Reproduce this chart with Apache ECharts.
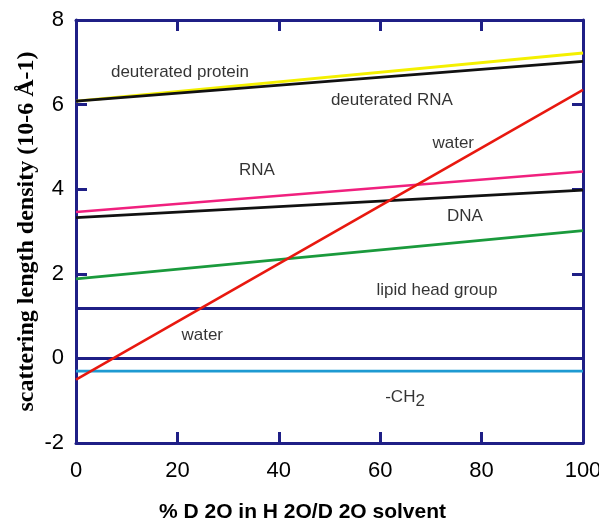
<!DOCTYPE html>
<html>
<head>
<meta charset="utf-8">
<script src="https://cdn.jsdelivr.net/npm/echarts@6/dist/echarts.min.js"></script>
<style>html,body{margin:0;padding:0;background:#fff}#c{width:599px;height:524px}</style>
</head>
<body>
<div id="c"></div>
<script>
// x endpoints (% D2O)
const xEnds = [0, 100];
// series values at 0% and 100% D2O
const deutProteinYellow = [6.08, 7.22];
const deutProteinBlack = [6.08, 7.02];
const rnaPink = [3.46, 4.42];
const rnaBlack = [3.33, 3.98];
const dnaGreen = [1.88, 3.02];
const water = [-0.5, 6.35];
const lipidHead = [1.18, 1.18];
const zeroLine = [0, 0];
const ch2 = [-0.3, -0.3];
// axis ticks
const xTicks = [0, 20, 40, 60, 80, 100];
const yTicks = [-2, 0, 2, 4, 6, 8];
// annotation texts and their data positions
const annoText = ['deuterated protein', 'deuterated RNA', 'water', 'RNA', 'DNA', 'lipid head group', 'water', '-CH{s|2}'];
const annoX = [20.5, 62.3, 74.4, 35.7, 76.7, 71.2, 24.9, 64.9];
const annoY = [6.77, 6.11, 5.09, 4.45, 3.35, 1.61, 0.55, -0.93];

const navy = '#1f1f86';
function pts(v){ return xEnds.map((x,i)=>[x, v[i]]); }
function line(v, color, w, z){
  return {type:'line', data: pts(v), symbol:'none', silent:true, z: z||2,
    lineStyle:{color: color, width: w||2.6}};
}
const chart = echarts.init(document.getElementById('c'), null, {renderer:'canvas'});
const axisCommon = {
  type:'value', splitLine:{show:false},
  axisLine:{show:true, onZero:false, lineStyle:{color:navy, width:3}},
  axisTick:{show:true, inside:true, length:11, lineStyle:{color:navy, width:3}}
};
chart.setOption({
  animation:false,
  grid:{left:76, right:16, top:20, bottom:81, outerBoundsMode:'none', containLabel:false},
  xAxis:[
    Object.assign({}, axisCommon, {position:'bottom', min:xTicks[0], max:xTicks[xTicks.length-1], interval:20,
      axisLabel:{color:'#000', fontFamily:'Liberation Sans', fontSize:22, margin:17},
      name:'% D 2O in H 2O/D 2O solvent', nameLocation:'middle', nameGap:59, nameMoveOverlap:false,
      nameTextStyle:{color:'#000', fontFamily:'Liberation Sans', fontWeight:'bold', fontSize:21, padding:[0,54,0,0]}}),
    Object.assign({}, axisCommon, {position:'top', min:0, max:100, interval:20, axisLabel:{show:false}})
  ],
  yAxis:[
    Object.assign({}, axisCommon, {position:'left', min:yTicks[0], max:yTicks[yTicks.length-1], interval:2,
      axisLabel:{color:'#000', fontFamily:'Liberation Sans', fontSize:22, margin:12},
      name:'scattering length density (10-6 Å-1)', nameLocation:'middle', nameGap:37, nameMoveOverlap:false,
      nameTextStyle:{color:'#000', fontFamily:'Liberation Serif', fontWeight:'bold', fontSize:24}}),
    Object.assign({}, axisCommon, {position:'right', min:-2, max:8, interval:2, axisLabel:{show:false}})
  ],
  series:[
    line(ch2, '#1e9ad2', 2.6),
    line(zeroLine, navy, 3),
    line(lipidHead, navy, 3),
    line(dnaGreen, '#1a9a3c', 2.6),
    line(rnaPink, '#f0207e', 2.6),
    line(rnaBlack, '#111', 2.8),
    line(deutProteinYellow, '#f4f000', 2.8),
    line(deutProteinBlack, '#111', 2.8),
    line(water, '#e8180f', 2.6, 3),
    {type:'scatter', symbolSize:0, silent:true, z:5,
      data: annoText.map((t,i)=>({value:[annoX[i], annoY[i]], name:t})),
      label:{show:true, position:'inside', formatter:p=>p.name, color:'#000',
        fontFamily:'Liberation Sans', fontSize:17,
        rich:{s:{fontFamily:'Liberation Sans', fontSize:17, color:'#000', verticalAlign:'top', padding:[8,0,0,0]}}}}
  ]
});
</script>
</body>
</html>
